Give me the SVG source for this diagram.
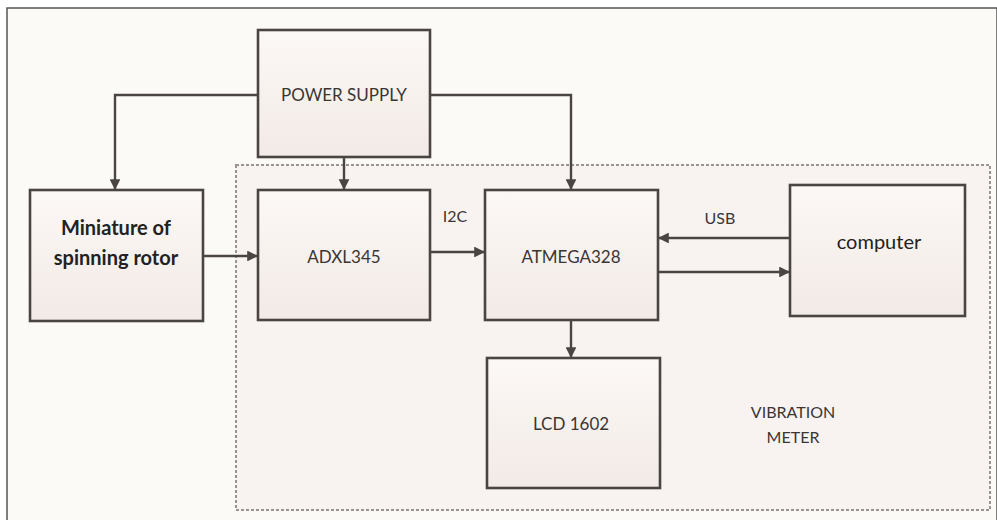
<svg xmlns="http://www.w3.org/2000/svg" width="997" height="520" viewBox="0 0 997 520">
<style>
.box{fill:url(#g);stroke:#4a4542;stroke-width:2.6}
.t{font-family:Lato,"Liberation Sans",sans-serif;font-size:17px;fill:#3a3634;text-anchor:middle}
.s{font-size:16px}
.b{font-family:Lato,"Liberation Sans",sans-serif;font-size:20px;font-weight:bold;fill:#222;text-anchor:middle}
.c{fill:none;stroke:#4a4542;stroke-width:2.4}
</style>
<defs>
<linearGradient id="g" x1="0" y1="0" x2="0" y2="1">
<stop offset="0" stop-color="#fcf8f6"/>
<stop offset="1" stop-color="#f2eae6"/>
</linearGradient>
<marker id="a" viewBox="0 0 10 10" refX="10" refY="5" markerWidth="4.5" markerHeight="4.5" orient="auto" markerUnits="strokeWidth">
<path d="M0,0 L10,5 L0,10 z" fill="#4a4542"/>
</marker>
</defs>
<rect x="0" y="0" width="997" height="520" fill="#ffffff"/>
<rect x="7" y="8" width="990" height="520" fill="#fcfaf7" stroke="#555" stroke-width="1.5"/>
<rect id="vibration-meter" x="236" y="165" width="754" height="345" fill="#f8f3f0" stroke="#9a9490" stroke-width="2" stroke-dasharray="3,2"/>
<g id="power-supply"><rect class="box" x="258" y="30" width="172" height="127"/><text class="t" x="344" y="101">POWER SUPPLY</text></g>
<g id="miniature"><rect class="box" x="30" y="190" width="173" height="131"/><text class="b" x="116" y="235">Miniature of</text><text class="b" x="116" y="265">spinning rotor</text></g>
<g id="adxl345"><rect class="box" x="258" y="190" width="172" height="130"/><text class="t" x="344" y="263">ADXL345</text></g>
<g id="atmega328"><rect class="box" x="485" y="190" width="173" height="130"/><text class="t" x="571" y="263">ATMEGA328</text></g>
<g id="computer"><rect class="box" x="790" y="185" width="175" height="131"/><text class="t" x="879" y="249" style="font-size:20px;fill:#222">computer</text></g>
<g id="lcd1602"><rect class="box" x="487" y="358" width="173" height="130"/><text class="t" x="571" y="430">LCD 1602</text></g>
<g id="labels"><text class="t s" x="455" y="222">I2C</text><text class="t s" x="720" y="224">USB</text><text class="t s" x="793" y="418">VIBRATION</text><text class="t s" x="793" y="443">METER</text></g>
<g id="connectors">
<path class="c" d="M258,95 H115 V190" marker-end="url(#a)"/>
<path class="c" d="M430,95 H571 V190" marker-end="url(#a)"/>
<path class="c" d="M344,157 V190" marker-end="url(#a)"/>
<path class="c" d="M203,256 H258" marker-end="url(#a)"/>
<path class="c" d="M430,252 H485" marker-end="url(#a)"/>
<path class="c" d="M790,238 H658" marker-end="url(#a)"/>
<path class="c" d="M658,272 H790" marker-end="url(#a)"/>
<path class="c" d="M571,320 V358" marker-end="url(#a)"/>
</g>
</svg>
